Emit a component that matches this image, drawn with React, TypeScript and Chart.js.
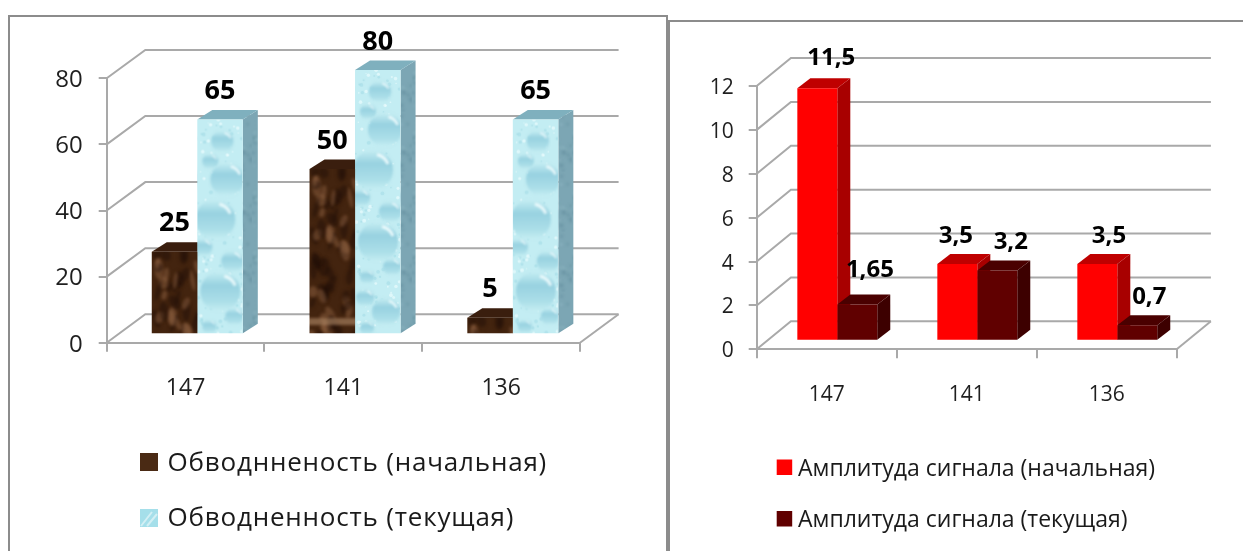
import React, { useEffect, useRef } from "react";
import { Chart, registerables } from "chart.js";

Chart.register(...registerables);

// Well identifiers shared by both panels
const wells = ["147", "141", "136"];

// Water cut, percent
const waterInitial = [25, 50, 5];
const waterCurrent = [65, 80, 65];

// Signal amplitude
const amplitudeInitial = [11.5, 3.5, 3.5];
const amplitudeCurrent = [1.65, 3.2, 0.7];

const FONT = '"Open Sans", "Noto Sans", sans-serif';
const GRID = "#a9a9a9";

// Deterministic 0..1 noise for the procedural textures
const noise = (n: number) => {
  const s = Math.sin(n * 127.1 + 11.7) * 43758.5453;
  return s - Math.floor(s);
};

function tile(w: number, h: number, paint: (c: CanvasRenderingContext2D) => void) {
  const cv = document.createElement("canvas");
  cv.width = w;
  cv.height = h;
  paint(cv.getContext("2d")!);
  return cv;
}

// [x, y, radius] of the droplets on the water texture
const drops = [
  [25, 22, 11], [13, 42, 8], [30, 60, 17], [18, 100, 20], [6, 128, 9], [35, 142, 11],
  [23, 172, 20], [37, 197, 9], [12, 207, 7], [10, 228, 9], [31, 242, 14], [12, 258, 7],
];

const waterTile = tile(45, 270, (c) => {
  c.fillStyle = "#c3edf3";
  c.fillRect(0, 0, 45, 270);
  c.filter = "blur(0.6px)";
  for (let i = 0; i < 200; i++) {
    const x = noise(i) * 45;
    const y = noise(i + 500) * 270;
    c.fillStyle = i % 2 ? "rgba(235,252,254,0.7)" : "rgba(150,212,226,0.4)";
    c.beginPath();
    c.arc(x, y, 0.6 + noise(i + 900) * 1.4, 0, Math.PI * 2);
    c.fill();
  }
  c.filter = "blur(1.2px)";
  for (const [x, y, r] of drops) {
    const g = c.createLinearGradient(x, y - r, x, y + r);
    g.addColorStop(0, "#c6eef3");
    g.addColorStop(0.35, "#98d2e1");
    g.addColorStop(0.75, "#acdfe9");
    g.addColorStop(1, "#c6eef3");
    c.fillStyle = g;
    c.beginPath();
    c.arc(x, y, r, 0, Math.PI * 2);
    c.fill();
    c.strokeStyle = "rgba(245,254,255,0.85)";
    c.lineWidth = Math.max(1, r * 0.16);
    c.beginPath();
    c.arc(x, y, r * 0.8, -Math.PI * 0.42, -Math.PI * 0.12);
    c.stroke();
  }
});

const waterSideTile = tile(20, 60, (c) => {
  c.fillStyle = "#7ca6b4";
  c.fillRect(0, 0, 20, 60);
  c.filter = "blur(1px)";
  for (let i = 0; i < 26; i++) {
    c.fillStyle = i % 2 ? "rgba(85,130,145,0.35)" : "rgba(150,190,200,0.35)";
    c.beginPath();
    c.arc(noise(i + 40) * 20, noise(i + 80) * 60, 1 + noise(i + 120) * 1.6, 0, Math.PI * 2);
    c.fill();
  }
});

const marbleTile = tile(46, 170, (c) => {
  c.fillStyle = "#43240f";
  c.fillRect(0, 0, 46, 170);
  c.filter = "blur(1.6px)";
  for (let i = 0; i < 70; i++) {
    const x = noise(i + 7) * 46;
    const y = noise(i + 300) * 170;
    const light = i % 3 === 0;
    c.fillStyle = light ? "rgba(150,105,70,0.45)" : "rgba(30,14,6,0.45)";
    c.beginPath();
    c.ellipse(x, y, 2 + noise(i + 600) * 3, 4 + noise(i + 21) * 7, noise(i + 33) * 1.2 - 0.6, 0, Math.PI * 2);
    c.fill();
  }
  c.fillStyle = "rgba(180,140,105,0.6)";
  c.fillRect(-2, 149, 50, 7);
});

// Front faces of textured bars are anchored to the top of each bar
function textured(source: HTMLCanvasElement, fallback: string, catPct: number) {
  return (ctx: any) => {
    if (ctx.type !== "data") return fallback;
    const { x, y } = ctx.chart.scales;
    const barW = ((x.width / wells.length) * catPct) / 2;
    const left = x.getPixelForValue(ctx.dataIndex) + (ctx.datasetIndex - 1) * barW;
    const top = y.getPixelForValue(ctx.parsed ? ctx.parsed.y : ctx.raw);
    const p = ctx.chart.ctx.createPattern(source, "repeat")!;
    p.setTransform(new DOMMatrix([1, 0, 0, 1, left, top]));
    return p;
  };
}

type Spec = {
  wall: [number, number];
  shift: [number, number];
  depth: [number, number];
  lineWidth: number;
  side: any[];
  top: string[];
  labelFont: string;
  labelLift: number;
  labelDx: number[][];
  labelDy: number[][];
  legendFont: string;
  legendSpacing: string;
  legend: { swatch: [number, number, number]; textX: number; baseline: number }[];
  swatches: ((c: CanvasRenderingContext2D, x: number, y: number, s: number) => void)[];
};

// Draws the perspective box, side and top faces, value captions and the legend
function depthPlugin(spec: Spec) {
  const [wx, wy] = spec.wall;
  const [sx, sy] = spec.shift;
  const [dx, dy] = spec.depth;
  return {
    id: "depth",
    beforeDatasetsDraw(chart: any) {
      const c: CanvasRenderingContext2D = chart.ctx;
      const { y: ys } = chart.scales;
      const { left, right } = chart.chartArea;
      c.save();
      c.strokeStyle = GRID;
      c.lineWidth = spec.lineWidth;
      for (const tick of ys.ticks) {
        const y = ys.getPixelForValue(tick.value);
        c.beginPath();
        c.moveTo(left, y);
        c.lineTo(left + wx, y - wy);
        c.lineTo(right + wx, y - wy);
        c.stroke();
      }
      const y0 = ys.getPixelForValue(0);
      c.beginPath();
      c.moveTo(right, y0);
      c.lineTo(right + wx, y0 - wy);
      c.stroke();

      // Side and top faces go under the front faces, first series first
      c.translate(sx, sy);
      chart.data.datasets.forEach((_: any, di: number) => {
        chart.getDatasetMeta(di).data.forEach((bar: any) => {
          const x0 = bar.x - bar.width / 2;
          const x1 = bar.x + bar.width / 2;
          const yt = bar.y;
          const yb = bar.base;
          c.fillStyle = spec.side[di];
          c.beginPath();
          c.moveTo(x1, yt);
          c.lineTo(x1 + dx, yt - dy);
          c.lineTo(x1 + dx, yb - dy);
          c.lineTo(x1, yb);
          c.closePath();
          c.fill();
          c.fillStyle = spec.top[di];
          c.beginPath();
          c.moveTo(x0, yt);
          c.lineTo(x0 + dx, yt - dy);
          c.lineTo(x1 + dx, yt - dy);
          c.lineTo(x1, yt);
          c.closePath();
          c.fill();
        });
      });
      c.restore();
      c.save();
      c.translate(sx, sy);
    },
    afterDatasetsDraw(chart: any) {
      const c: CanvasRenderingContext2D = chart.ctx;
      c.restore();
      c.save();
      c.fillStyle = "#000";
      c.font = spec.labelFont;
      c.textAlign = "center";
      c.textBaseline = "middle";
      chart.data.datasets.forEach((ds: any, di: number) => {
        chart.getDatasetMeta(di).data.forEach((bar: any, i: number) => {
          const text = String(ds.data[i]).replace(".", ",");
          c.fillText(
            text,
            bar.x + sx + spec.labelDx[di][i],
            bar.y + sy - spec.labelLift + spec.labelDy[di][i],
          );
        });
      });
      c.font = spec.legendFont;
      (c as any).letterSpacing = spec.legendSpacing;
      c.textAlign = "left";
      c.textBaseline = "alphabetic";
      spec.legend.forEach((item, di) => {
        const [x, y, s] = item.swatch;
        spec.swatches[di](c, x, y, s);
        c.fillStyle = "#1a1a1a";
        c.fillText(chart.data.datasets[di].label, item.textX, item.baseline);
      });
      c.restore();
    },
  };
}

function chartOptions(opts: {
  padding: any;
  max: number;
  step: number;
  yFont: number;
  xFont: number;
  yPad: number;
  xPad: number;
  lineWidth: number;
}): any {
  const grid = {
    display: true,
    drawOnChartArea: false,
    drawTicks: true,
    color: GRID,
    lineWidth: opts.lineWidth,
  };
  return {
    responsive: false,
    animation: false,
    events: [],
    layout: { padding: opts.padding },
    plugins: { legend: { display: false }, tooltip: { enabled: false } },
    scales: {
      x: {
        afterFit: (s: any) => { s.height = 70; },
        grid: { ...grid, tickLength: 9, offset: true },
        border: { display: true, color: GRID, width: opts.lineWidth },
        ticks: { color: "#1f1f1f", padding: opts.xPad, font: { family: FONT, size: opts.xFont }, maxRotation: 0 },
      },
      y: {
        min: 0,
        max: opts.max,
        afterFit: (s: any) => { s.width = 60; },
        grid: { ...grid, tickLength: 8 },
        border: { display: true, color: GRID, width: opts.lineWidth },
        ticks: { color: "#1f1f1f", stepSize: opts.step, padding: opts.yPad, labelOffset: 2, font: { family: FONT, size: opts.yFont } },
      },
    },
  };
}

const WATER_CAT = 0.577;
const AMP_CAT = 0.571;

function buildWater(canvas: HTMLCanvasElement) {
  const ctx = canvas.getContext("2d")!;
  return new Chart(canvas, {
    type: "bar",
    data: {
      labels: wells,
      datasets: [
        {
          label: "Обводнненость (начальная)",
          data: waterInitial,
          backgroundColor: textured(marbleTile, "#43240f", WATER_CAT),
          barPercentage: 1,
          categoryPercentage: WATER_CAT,
        },
        {
          label: "Обводненность (текущая)",
          data: waterCurrent,
          backgroundColor: textured(waterTile, "#c3edf3", WATER_CAT),
          barPercentage: 1,
          categoryPercentage: WATER_CAT,
        },
      ],
    } as any,
    options: chartOptions({
      padding: { left: 46.7, top: 78.3, right: 87, bottom: 138.3 },
      max: 80, step: 20, yFont: 24, xFont: 23, yPad: 16, xPad: 23, lineWidth: 2,
    }),
    plugins: [
      depthPlugin({
        wall: [38.6, 28.4],
        shift: [11.7, -8.4],
        depth: [15, 9.5],
        lineWidth: 2,
        side: ["#2c1509", ctx.createPattern(waterSideTile, "repeat")],
        top: ["#3a1e0e", "#7fb0be"],
        labelFont: `bold 27px ${FONT}`,
        labelLift: 28,
        labelDx: [[0, 0, 0], [0, 0, 0]],
        labelDy: [[0, 0, 0], [0, 0, 0]],
        legendFont: `26px ${FONT}`,
        legendSpacing: "0.8px",
        legend: [
          { swatch: [140, 453, 18], textX: 167.5, baseline: 471 },
          { swatch: [140, 509, 18], textX: 167.5, baseline: 526 },
        ],
        swatches: [
          (c, x, y, s) => {
            c.fillStyle = "#4a2a14";
            c.fillRect(x, y, s, s);
          },
          (c, x, y, s) => {
            c.fillStyle = "#a5dfea";
            c.fillRect(x, y, s, s);
            c.strokeStyle = "#d2eff4";
            c.lineWidth = 2;
            c.beginPath();
            c.moveTo(x + 1, y + s - 1);
            c.lineTo(x + s - 6, y + 3);
            c.moveTo(x + 7, y + s - 1);
            c.lineTo(x + s - 1, y + 5);
            c.stroke();
          },
        ],
      }),
    ] as any,
  });
}

function buildAmplitude(canvas: HTMLCanvasElement) {
  return new Chart(canvas, {
    type: "bar",
    data: {
      labels: wells,
      datasets: [
        {
          label: "Амплитуда сигнала (начальная)",
          data: amplitudeInitial,
          backgroundColor: "#ff0000",
          barPercentage: 1,
          categoryPercentage: AMP_CAT,
        },
        {
          label: "Амплитуда сигнала (текущая)",
          data: amplitudeCurrent,
          backgroundColor: "#600000",
          barPercentage: 1,
          categoryPercentage: AMP_CAT,
        },
      ],
    } as any,
    options: chartOptions({
      padding: { left: 29.7, top: 86, right: 66.3, bottom: 131.7 },
      max: 12, step: 2, yFont: 21, xFont: 21, yPad: 15, xPad: 24, lineWidth: 2,
    }),
    plugins: [
      depthPlugin({
        wall: [34.2, 28],
        shift: [10.6, -8.6],
        depth: [13, 10],
        lineWidth: 2,
        side: ["#a80000", "#3d0000"],
        top: ["#bf0000", "#4a0000"],
        labelFont: `bold 24px ${FONT}`,
        labelLift: 28,
        labelDx: [[14, -1.4, 11.7], [12.6, 13.5, 12]],
        labelDy: [[-2, 0, 0], [-6, 0, 0]],
        legendFont: `23px ${FONT}`,
        legendSpacing: "0px",
        legend: [
          { swatch: [109.7, 459.5, 15.5], textX: 131, baseline: 476 },
          { swatch: [109.7, 511, 15.5], textX: 131, baseline: 527 },
        ],
        swatches: [
          (c, x, y, s) => { c.fillStyle = "#ff0000"; c.fillRect(x, y, s, s); },
          (c, x, y, s) => { c.fillStyle = "#600000"; c.fillRect(x, y, s, s); },
        ],
      }),
    ] as any,
  });
}

const panelBorder = "2px solid #8c8c8c";

export default function App() {
  const leftRef = useRef<HTMLCanvasElement>(null);
  const rightRef = useRef<HTMLCanvasElement>(null);

  useEffect(() => {
    const a = buildWater(leftRef.current!);
    const b = buildAmplitude(rightRef.current!);
    return () => {
      a.destroy();
      b.destroy();
    };
  }, []);

  return (
    <div style={{ position: "fixed", left: 0, top: 0, width: 1243, height: 551, overflow: "hidden", background: "#fff" }}>
      <div style={{ position: "absolute", left: 8, top: 15, width: 656, height: 600, border: panelBorder }} />
      <div style={{ position: "absolute", left: 668, top: 20, width: 620, height: 600, border: panelBorder }} />
      <canvas ref={leftRef} width={667} height={551} style={{ position: "absolute", left: 0, top: 0 }} />
      <canvas ref={rightRef} width={576} height={551} style={{ position: "absolute", left: 667, top: 0 }} />
    </div>
  );
}
